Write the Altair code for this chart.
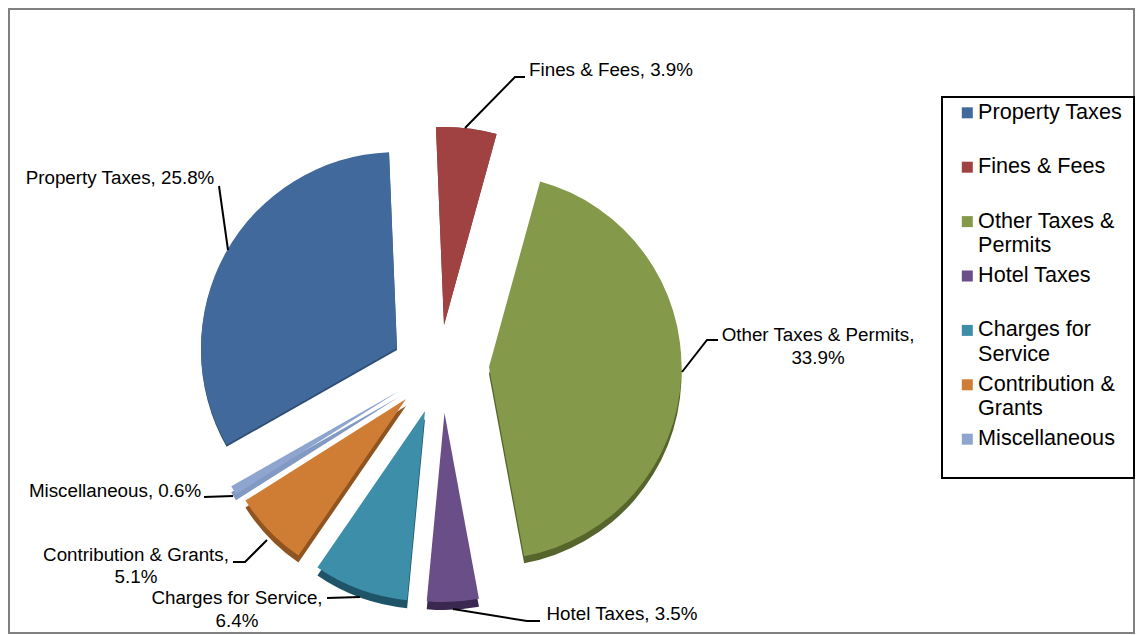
import math
from itertools import accumulate
import altair as alt
import pandas as pd

# chart values
names = ["Property Taxes", "Fines & Fees", "Other Taxes & Permits", "Hotel Taxes",
         "Charges for Service", "Contribution & Grants", "Miscellaneous"]
values = [25.8, 3.9, 33.9, 3.5, 6.4, 5.1, 0.6]
face_colors = ["#41699b", "#a04241", "#85994a", "#6a4e87", "#3d8ea8", "#cf7d35", "#8ea6cf"]
edge_colors = ["#2f4d73", "#7a3130", "#55652c", "#3a2850", "#1f5468", "#8f5420", "#8199c3"]

# layout, in pixels of the page
W, H = 1127, 626
apex_x = [397, 444, 489, 444.5, 425, 406, 399]
apex_y = [348, 325, 367, 413, 411, 399, 391]
radius = [196, 198, 192.5, 189, 190, 190, 193]
depth = [2, 0, 7, 8, 8, 7, 6]
start_angle = math.radians(240.4)

cum = [0] + list(accumulate(values))
pie = pd.DataFrame({
    "name": names, "value": values, "start": cum[:-1], "stop": cum[1:],
    "cx": apex_x, "cy": apex_y, "cyd": [a + d for a, d in zip(apex_y, depth)],
    "r": radius, "edge": edge_colors,
})

px = alt.Scale(domain=[8, 8 + W], range=[0, W])
py = alt.Scale(domain=[8 + H, 8], range=[H, 0])
def X(f): return alt.X(f, scale=px, axis=None)
def Y(f): return alt.Y(f, scale=py, axis=None)
theta_scale = alt.Scale(domain=[0, sum(values)], range=[start_angle, start_angle + 2 * math.pi])

first_lines = {"Other Taxes & Permits": "Other Taxes &", "Charges for Service": "Charges for",
               "Contribution & Grants": "Contribution &"}
expr = "datum.label"
for k, v in first_lines.items():
    expr = f"datum.label === '{k}' ? '{v}' : ({expr})"

FONT = "Liberation Sans"

sides = alt.Chart(pie).mark_arc().encode(
    x=X("cx:Q"), y=Y("cyd:Q"),
    theta=alt.Theta("start:Q", scale=theta_scale, stack=None), theta2="stop:Q",
    radius=alt.Radius("r:Q", scale=None),
    color=alt.Color("edge:N", scale=None, legend=None),
)
faces = alt.Chart(pie).mark_arc().encode(
    x=X("cx:Q"), y=Y("cy:Q"),
    theta=alt.Theta("start:Q", scale=theta_scale, stack=None), theta2="stop:Q",
    radius=alt.Radius("r:Q", scale=None),
    color=alt.Color("name:N", scale=alt.Scale(domain=names, range=face_colors),
                    legend=alt.Legend(orient="none", legendX=948.5, legendY=94, title=None,
                                      symbolType="square", symbolSize=121, symbolStrokeWidth=0,
                                      labelFont=FONT, labelFontSize=21.6, labelColor="#000000",
                                      labelExpr=expr, labelLimit=200, labelOffset=0,
                                      rowPadding=31.4, padding=0, columns=1)),
)

frame = pd.DataFrame({"x": [9], "x2": [1134], "y": [9], "y2": [633]})
frame_mark = alt.Chart(frame).mark_rect(fill="#ffffff", stroke="#808080", strokeWidth=2).encode(
    x=X("x:Q"), x2="x2:Q", y=Y("y:Q"), y2="y2:Q")

box = pd.DataFrame({"x": [942], "x2": [1134], "y": [97], "y2": [478]})
box_mark = alt.Chart(box).mark_rect(fill="#ffffff", stroke="#000000", strokeWidth=2).encode(
    x=X("x:Q"), x2="x2:Q", y=Y("y:Q"), y2="y2:Q")

legend_more = pd.DataFrame({"t": ["Permits", "Service", "Grants"], "x": [978, 978, 978], "y": [246, 355, 409]})
legend_more_mark = alt.Chart(legend_more).mark_text(font=FONT, fontSize=21.6, align="left", baseline="middle",
                                                    color="#000000").encode(x=X("x:Q"), y=Y("y:Q"), text="t:N")

label_rows = [
    ("Fines & Fees, 3.9%", 611, 70),
    ("Property Taxes, 25.8%", 120, 178),
    ("Other Taxes & Permits,", 818, 335),
    ("33.9%", 818, 358),
    ("Hotel Taxes, 3.5%", 622, 614),
    ("Charges for Service,", 237, 598),
    ("6.4%", 237, 621),
    ("Contribution & Grants,", 136, 555),
    ("5.1%", 136, 577),
    ("Miscellaneous, 0.6%", 115, 491),
]
labels = pd.DataFrame(label_rows, columns=["t", "x", "y"])
labels_mark = alt.Chart(labels).mark_text(font=FONT, fontSize=18.8, align="center", baseline="middle",
                                          color="#000000").encode(x=X("x:Q"), y=Y("y:Q"), text="t:N")

leader_paths = {
    "fines": [(465, 128), (515, 77), (525, 77)],
    "property": [(219, 186), (228, 250)],
    "other": [(682, 372), (707, 340), (718, 340)],
    "hotel": [(453, 609), (527, 621), (540, 621)],
    "charges": [(327, 598), (360, 597)],
    "contribution": [(233, 562), (245, 562), (267, 540)],
    "misc": [(204, 497), (233, 496)],
}
leaders = pd.DataFrame([
    {"id": k, "seq": i, "x": p[0], "y": p[1]}
    for k, pts in leader_paths.items() for i, p in enumerate(pts)
])
leaders_mark = alt.Chart(leaders).mark_line(color="#000000", strokeWidth=2).encode(
    x=X("x:Q"), y=Y("y:Q"), detail="id:N", order="seq:Q")

chart = alt.layer(
    frame_mark, box_mark, sides, faces, leaders_mark, labels_mark, legend_more_mark
).resolve_scale(color="independent").properties(
    width=W, height=H, padding=0, autosize=alt.AutoSizeParams(type="none")
).configure_view(stroke=None)

chart.save("out.html", embed_options={"renderer": "svg", "actions": False})
